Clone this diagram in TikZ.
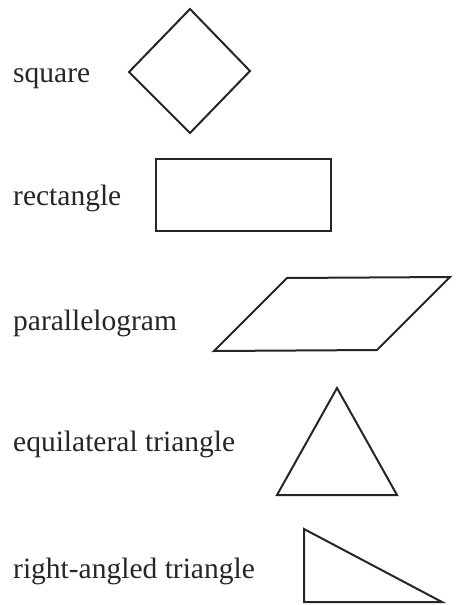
\documentclass[tikz,border=0pt]{standalone}
\usepackage{fontspec}
\setmainfont{Liberation Serif}
\begin{document}
\begin{tikzpicture}[x=1pt,y=-1pt,
  lbl/.style={anchor=base west,inner sep=0pt,font=\fontsize{29.5}{32}\selectfont,text=black!85},
  shp/.style={draw=black!85,line width=2pt,line join=miter}]
\useasboundingbox (0,0) rectangle (457,605);
\node[lbl] (tsq) at (13,82) {square};
\node[lbl] (tre) at (13,205) {rectangle};
\node[lbl] (tpa) at (13,330) {parallelogram};
\node[lbl] (teq) at (13,451) {equilateral triangle};
\node[lbl] (tra) at (13,578) {right-angled triangle};
\draw[shp] (190,9) -- (250,71) -- (190,133) -- (129,72) -- cycle;
\draw[shp] (156,159) rectangle (331,231);
\draw[shp] (287,278) -- (450,277) -- (377,350) -- (214,351) -- cycle;
\draw[shp] (337,388) -- (397,495) -- (277,495) -- cycle;
\draw[shp] (304,529) -- (442,602) -- (304,602) -- cycle;
\end{tikzpicture}
\end{document}
